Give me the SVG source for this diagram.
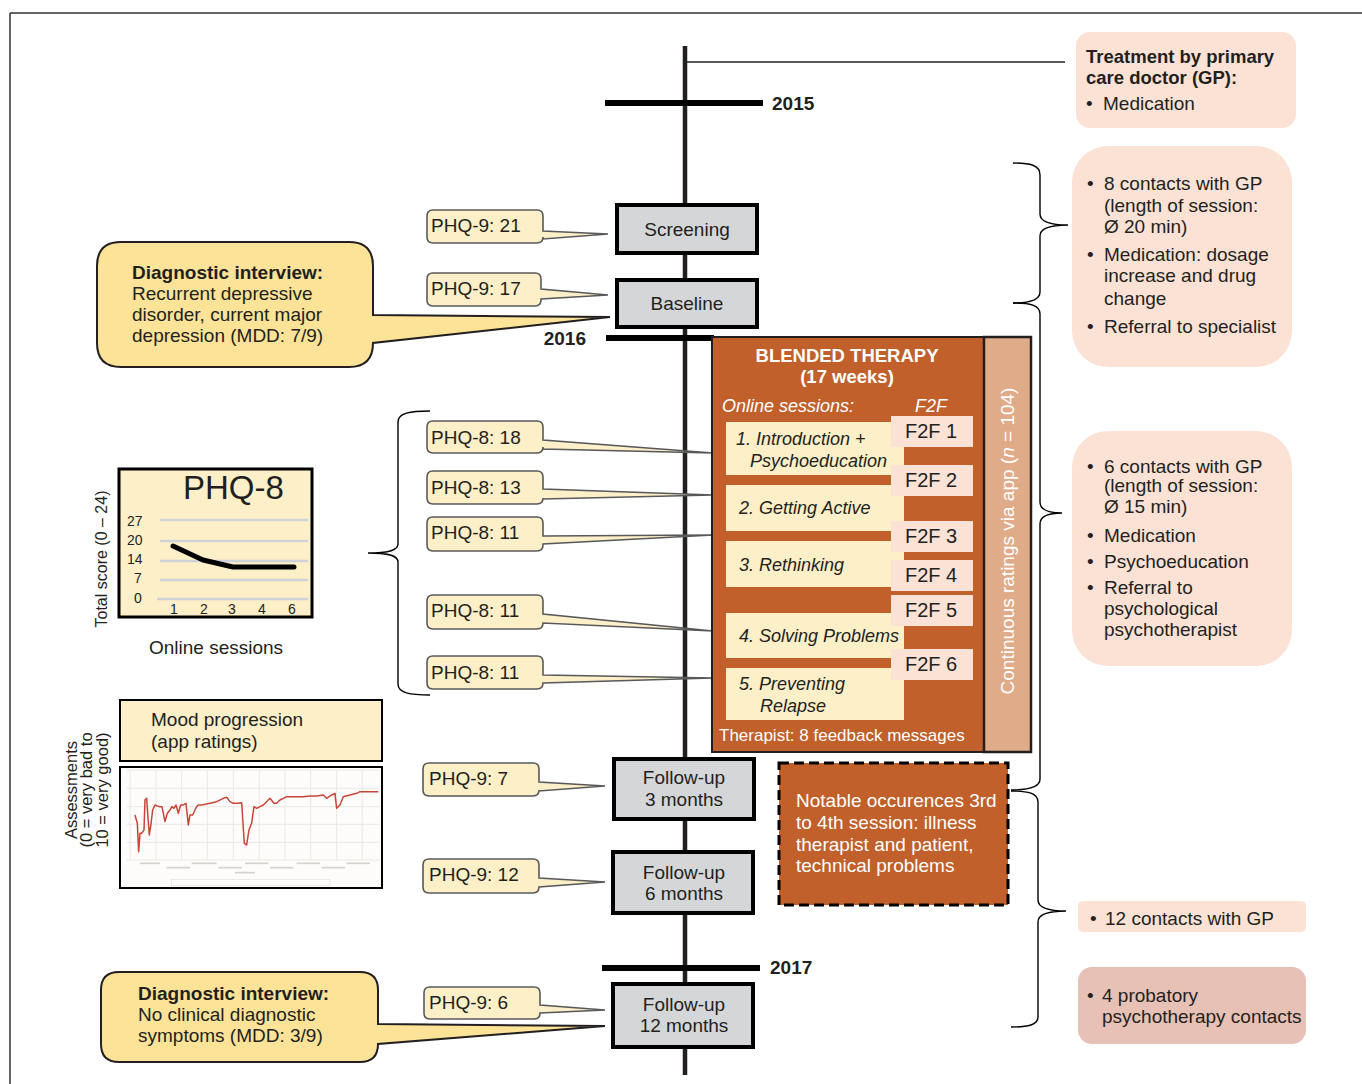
<svg xmlns="http://www.w3.org/2000/svg" width="1362" height="1084" viewBox="0 0 1362 1084">
<style>
text{font-family:"Liberation Sans",Arial,Helvetica,sans-serif;fill:#231f20;font-size:19px}
.b{font-weight:bold}
.w{fill:#ffffff}
.it{font-style:italic}
.c{text-anchor:middle}
.co{fill:#fdefc8;stroke:#58595b;stroke-width:1.6}
.dg{fill:#fde398;stroke:#231f20;stroke-width:2}
.gb{fill:#d5d6d8;stroke:#000;stroke-width:4}
.bar{fill:#000}
.brace{fill:none;stroke:#000;stroke-width:1.4}
.pe{fill:#fbe2d5}
.ses{fill:#fdefc8}
.f2f{fill:#fbe2d5}
.grid{stroke:#cfd3d8;stroke-width:2.5}
.tk{font-size:14px}
</style>

<g id="frame">
<line x1="10" y1="13" x2="1362" y2="13" stroke="#333" stroke-width="1.5"/>
<line x1="10" y1="13" x2="10" y2="1084" stroke="#333" stroke-width="1.5"/>
</g>

<g id="timeline">
<line x1="685" y1="46" x2="685" y2="1075" stroke="#231f20" stroke-width="4.5"/>
<rect class="bar" x="605" y="100" width="158" height="6"/>
<text class="b" x="772" y="110">2015</text>
<rect class="bar" x="606" y="335" width="108" height="6"/>
<text class="b" x="586" y="345" text-anchor="end">2016</text>
<rect class="bar" x="602" y="965" width="158" height="6"/>
<text class="b" x="770" y="974">2017</text>
</g>

<g id="connectors">
<line x1="685" y1="62" x2="1065" y2="62" stroke="#231f20" stroke-width="1.5"/>
<path class="brace" d="M430,411 C410,411 398,413 398,422 V544 C398,550 390,553 368,553 C390,553 398,556 398,562 V684 C398,693 410,695 430,695"/>
<path class="brace" d="M1013,163 C1030,163 1040,165 1040,175 V214 C1040,222 1050,225 1068,225 C1050,225 1040,228 1040,236 V292 C1040,300 1030,303 1013,303"/>
<path class="brace" d="M1013,303 C1030,303 1040,305 1040,314 V502 C1040,510 1048,513 1062,513 C1048,513 1040,516 1040,524 V779 C1040,787 1030,790 1011,790"/>
<path class="brace" d="M1011,791 C1028,791 1038,793 1038,802 V900 C1038,908 1048,911 1066,911 C1048,911 1038,914 1038,922 V1017 C1038,1025 1028,1027 1011,1027"/>
</g>

<g id="treatment-gp">
<rect class="pe" x="1076" y="32" width="220" height="96" rx="14"/>
<text class="b" x="1086" y="63" style="font-size:18.5px">Treatment by primary</text>
<text class="b" x="1086" y="84" style="font-size:18.5px">care doctor (GP):</text>
<text x="1086" y="110">•</text>
<text x="1103" y="110">Medication</text>
</g>

<g id="gp-phase1">
<rect class="pe" x="1072" y="146" width="220" height="221" rx="36"/>
<text x="1087" y="190">•</text><text x="1104" y="190">8 contacts with GP</text>
<text x="1104" y="212">(length of session:</text>
<text x="1104" y="233">Ø 20 min)</text>
<text x="1087" y="261">•</text><text x="1104" y="261">Medication: dosage</text>
<text x="1104" y="282">increase and drug</text>
<text x="1104" y="305">change</text>
<text x="1087" y="333">•</text><text x="1104" y="333">Referral to specialist</text>
</g>

<g id="gp-phase2">
<rect class="pe" x="1072" y="431" width="220" height="235" rx="36"/>
<text x="1087" y="473">•</text><text x="1104" y="473">6 contacts with GP</text>
<text x="1104" y="492">(length of session:</text>
<text x="1104" y="513">Ø 15 min)</text>
<text x="1087" y="542">•</text><text x="1104" y="542">Medication</text>
<text x="1087" y="568">•</text><text x="1104" y="568">Psychoeducation</text>
<text x="1087" y="594">•</text><text x="1104" y="594">Referral to</text>
<text x="1104" y="615">psychological</text>
<text x="1104" y="636">psychotherapist</text>
</g>

<g id="gp-phase3">
<rect class="pe" x="1078" y="901" width="228" height="31" rx="5"/>
<text x="1090" y="925">•</text><text x="1105" y="925">12 contacts with GP</text>
</g>

<g id="psychotherapy">
<rect x="1078" y="967" width="228" height="77" rx="14" fill="#e8c1b6"/>
<text x="1087" y="1002">•</text><text x="1102" y="1002">4 probatory</text>
<text x="1102" y="1023">psychotherapy contacts</text>
</g>

<g id="diag-interview-1">
<path class="dg" d="M121,242 H349 Q373,242 373,266 V315 L610,317 L373,343 Q373,367 349,367 H121 Q97,367 97,343 V266 Q97,242 121,242 Z"/>
<text class="b" x="132" y="279">Diagnostic interview:</text>
<text x="132" y="300">Recurrent depressive</text>
<text x="132" y="321">disorder, current major</text>
<text x="132" y="342">depression (MDD: 7/9)</text>
</g>

<g id="diag-interview-2">
<path class="dg" d="M119,972 H360 Q378,972 378,990 V1024 L605,1026 L378,1044 Q378,1062 360,1062 H119 Q101,1062 101,1044 V990 Q101,972 119,972 Z"/>
<text class="b" x="138" y="1000">Diagnostic interview:</text>
<text x="138" y="1021">No clinical diagnostic</text>
<text x="138" y="1042">symptoms (MDD: 3/9)</text>
</g>

<g id="phq9-21">
<path class="co" d="M433,210 H537 Q543,210 543,216 V231 L608,234 L543,239 V237 Q543,243 537,243 H433 Q427,243 427,237 V216 Q427,210 433,210 Z"/>
<text x="431" y="232">PHQ-9: 21</text>
</g>
<g id="phq9-17">
<path class="co" d="M433,273 H535 Q541,273 541,279 V289 L608,295 L541,299 V300 Q541,306 535,306 H433 Q427,306 427,300 V279 Q427,273 433,273 Z"/>
<text x="431" y="295">PHQ-9: 17</text>
</g>

<g id="phq8-1">
<path class="co" d="M433,421 H537 Q543,421 543,427 V440 L713,453 L543,449 V447 Q543,453 537,453 H433 Q427,453 427,447 V427 Q427,421 433,421 Z"/>
<text x="431" y="444">PHQ-8: 18</text>
</g>
<g id="phq8-2">
<path class="co" d="M433,471 H537 Q543,471 543,477 V489 L713,495 L543,499 V498 Q543,504 537,504 H433 Q427,504 427,498 V477 Q427,471 433,471 Z"/>
<text x="431" y="494">PHQ-8: 13</text>
</g>
<g id="phq8-3">
<path class="co" d="M433,517 H537 Q543,517 543,523 V536 L713,535 L543,544 V545 Q543,551 537,551 H433 Q427,551 427,545 V523 Q427,517 433,517 Z"/>
<text x="431" y="539">PHQ-8: 11</text>
</g>
<g id="phq8-4">
<path class="co" d="M433,595 H537 Q543,595 543,601 V614 L713,631 L543,623 V623 Q543,629 537,629 H433 Q427,629 427,623 V601 Q427,595 433,595 Z"/>
<text x="431" y="617">PHQ-8: 11</text>
</g>
<g id="phq8-5">
<path class="co" d="M433,656 H537 Q543,656 543,662 V675 L713,678 L543,683 V683 Q543,689 537,689 H433 Q427,689 427,683 V662 Q427,656 433,656 Z"/>
<text x="431" y="679">PHQ-8: 11</text>
</g>

<g id="phq9-7">
<path class="co" d="M429,763 H533 Q539,763 539,769 V782 L605,786 L539,791 V790 Q539,796 533,796 H429 Q423,796 423,790 V769 Q423,763 429,763 Z"/>
<text x="429" y="785">PHQ-9: 7</text>
</g>
<g id="phq9-12">
<path class="co" d="M429,859 H533 Q539,859 539,865 V878 L605,882 L539,887 V887 Q539,893 533,893 H429 Q423,893 423,887 V865 Q423,859 429,859 Z"/>
<text x="429" y="881">PHQ-9: 12</text>
</g>
<g id="phq9-6">
<path class="co" d="M430,987 H534 Q540,987 540,993 V1005 L605,1010 L540,1013 V1013 Q540,1019 534,1019 H430 Q424,1019 424,1013 V993 Q424,987 430,987 Z"/>
<text x="429" y="1009">PHQ-9: 6</text>
</g>

<g id="screening">
<rect class="gb" x="617" y="205" width="140" height="48"/>
<text class="c" x="687" y="236">Screening</text>
</g>
<g id="baseline">
<rect class="gb" x="617" y="280" width="140" height="47"/>
<text class="c" x="687" y="310">Baseline</text>
</g>
<g id="followup-3">
<rect class="gb" x="614" y="759" width="140" height="60"/>
<text class="c" x="684" y="784">Follow-up</text>
<text class="c" x="684" y="806">3 months</text>
</g>
<g id="followup-6">
<rect class="gb" x="613" y="852" width="140" height="61"/>
<text class="c" x="684" y="879">Follow-up</text>
<text class="c" x="684" y="900">6 months</text>
</g>
<g id="followup-12">
<rect class="gb" x="613" y="984" width="140" height="63"/>
<text class="c" x="684" y="1011">Follow-up</text>
<text class="c" x="684" y="1032">12 months</text>
</g>

<g id="blended-therapy">
<rect x="712" y="337" width="272" height="415" fill="#c1602b" stroke="#231f20" stroke-width="2"/>
<text class="b w c" x="847" y="362" style="font-size:18.5px">BLENDED THERAPY</text>
<text class="b w c" x="847" y="383" style="font-size:18.5px">(17 weeks)</text>
<text class="it w" x="722" y="412" style="font-size:18px">Online sessions:</text>
<text class="it w" x="915" y="412" style="font-size:18px">F2F</text>
<g id="session-1"><rect class="ses" x="726" y="422" width="178" height="53"/>
<text class="it" x="736" y="445" style="font-size:18px">1. Introduction +</text>
<text class="it" x="750" y="467" style="font-size:18px">Psychoeducation</text></g>
<g id="session-2"><rect class="ses" x="726" y="485" width="178" height="46"/>
<text class="it" x="739" y="514" style="font-size:18px">2. Getting Active</text></g>
<g id="session-3"><rect class="ses" x="726" y="541" width="178" height="46"/>
<text class="it" x="739" y="571" style="font-size:18px">3. Rethinking</text></g>
<g id="session-4"><rect class="ses" x="726" y="613" width="178" height="45"/>
<text class="it" x="739" y="642" style="font-size:18px">4. Solving Problems</text></g>
<g id="session-5"><rect class="ses" x="726" y="668" width="178" height="52"/>
<text class="it" x="739" y="690" style="font-size:18px">5. Preventing</text>
<text class="it" x="760" y="712" style="font-size:18px">Relapse</text></g>
<g id="f2f-1"><rect class="f2f" x="891" y="416" width="82" height="31"/><text x="905" y="438" style="font-size:20px">F2F 1</text></g>
<g id="f2f-2"><rect class="f2f" x="891" y="465" width="82" height="31"/><text x="905" y="487" style="font-size:20px">F2F 2</text></g>
<g id="f2f-3"><rect class="f2f" x="891" y="521" width="82" height="31"/><text x="905" y="543" style="font-size:20px">F2F 3</text></g>
<g id="f2f-4"><rect class="f2f" x="891" y="560" width="82" height="31"/><text x="905" y="582" style="font-size:20px">F2F 4</text></g>
<g id="f2f-5"><rect class="f2f" x="891" y="595" width="82" height="31"/><text x="905" y="617" style="font-size:20px">F2F 5</text></g>
<g id="f2f-6"><rect class="f2f" x="891" y="649" width="82" height="31"/><text x="905" y="671" style="font-size:20px">F2F 6</text></g>
<text class="w" x="719" y="741" style="font-size:17px">Therapist: 8 feedback messages</text>
</g>

<g id="continuous-ratings">
<rect x="984" y="337" width="47" height="415" fill="#dfab89" stroke="#231f20" stroke-width="2.5"/>
<text class="w c" transform="translate(1014,541) rotate(-90)">Continuous ratings via app (<tspan class="it">n</tspan> = 104)</text>
</g>

<g id="notable-occurrences">
<rect x="779" y="763" width="229" height="142" fill="#c1602b" stroke="#000" stroke-width="3" stroke-dasharray="10,5"/>
<text class="w" x="796" y="807">Notable occurences 3rd</text>
<text class="w" x="796" y="829">to 4th session: illness</text>
<text class="w" x="796" y="851">therapist and patient,</text>
<text class="w" x="796" y="872">technical problems</text>
</g>

<g id="phq8-chart">
<rect x="119" y="469" width="193" height="148" fill="#fdefc8" stroke="#000" stroke-width="3"/>
<text x="183" y="499" style="font-size:33px">PHQ-8</text>
<line class="grid" x1="160" y1="520" x2="308" y2="520"/>
<line class="grid" x1="160" y1="541" x2="308" y2="541"/>
<line class="grid" x1="160" y1="561" x2="308" y2="561"/>
<line class="grid" x1="160" y1="580" x2="308" y2="580"/>
<line class="grid" x1="157" y1="599" x2="308" y2="599"/>
<text class="tk" x="127" y="526">27</text>
<text class="tk" x="127" y="545">20</text>
<text class="tk" x="127" y="564">14</text>
<text class="tk" x="134" y="583">7</text>
<text class="tk" x="134" y="603">0</text>
<text class="tk c" x="174" y="614">1</text>
<text class="tk c" x="204" y="614">2</text>
<text class="tk c" x="232" y="614">3</text>
<text class="tk c" x="262" y="614">4</text>
<text class="tk c" x="292" y="614">6</text>
<polyline points="173,546 203,560 233,567 294,567" fill="none" stroke="#000" stroke-width="5" stroke-linecap="round" stroke-linejoin="round"/>
<text class="c" transform="translate(107,559) rotate(-90)" style="font-size:16px">Total score (0 – 24)</text>
<text class="c" x="216" y="654">Online sessions</text>
</g>

<g id="mood-progression">
<rect x="120" y="700" width="262" height="61" fill="#fdefc8" stroke="#000" stroke-width="2"/>
<text x="151" y="726">Mood progression</text>
<text x="151" y="748">(app ratings)</text>
<rect x="120" y="767" width="262" height="121" fill="#fdfcfa" stroke="#000" stroke-width="2"/>
<g transform="translate(50,690) scale(0.3333)" fill="none">
<g stroke="#ece8e4" stroke-width="3">
<line x1="230" y1="240" x2="990" y2="240"/><line x1="230" y1="295" x2="990" y2="295"/>
<line x1="230" y1="350" x2="990" y2="350"/><line x1="230" y1="403" x2="990" y2="403"/>
<line x1="230" y1="457" x2="990" y2="457"/><line x1="230" y1="510" x2="990" y2="510"/>
<line x1="240" y1="240" x2="240" y2="510"/><line x1="318" y1="240" x2="318" y2="510"/>
<line x1="395" y1="240" x2="395" y2="510"/><line x1="472" y1="240" x2="472" y2="510"/>
<line x1="550" y1="240" x2="550" y2="510"/><line x1="628" y1="240" x2="628" y2="510"/>
<line x1="705" y1="240" x2="705" y2="510"/><line x1="782" y1="240" x2="782" y2="510"/>
<line x1="860" y1="240" x2="860" y2="510"/><line x1="937" y1="240" x2="937" y2="510"/>
</g>
<g stroke="#d6d2ce" stroke-width="5">
<line x1="270" y1="520" x2="330" y2="520"/><line x1="425" y1="520" x2="500" y2="520"/>
<line x1="585" y1="520" x2="655" y2="520"/><line x1="740" y1="520" x2="810" y2="520"/>
<line x1="890" y1="520" x2="960" y2="520"/>
<line x1="350" y1="533" x2="420" y2="533"/><line x1="505" y1="533" x2="575" y2="533"/>
<line x1="660" y1="533" x2="730" y2="533"/><line x1="815" y1="533" x2="885" y2="533"/>
<line x1="555" y1="548" x2="615" y2="548"/>
</g>
<rect x="365" y="568" width="475" height="18" stroke="#e4e0dc" stroke-width="2"/>
<polyline stroke="#c8453a" stroke-width="4.5" stroke-linejoin="round" points="255,375 262,400 266,485 270,430 275,430 282,420 285,330 290,325 293,370 298,435 302,410 308,360 315,345 322,348 328,350 336,350 345,395 352,370 360,360 366,350 372,355 378,345 385,370 392,345 400,345 408,340 415,405 420,375 428,375 435,360 440,350 445,345 455,345 480,340 500,335 520,325 530,322 540,335 550,340 565,340 575,338 583,460 590,465 597,420 605,400 612,350 620,355 630,350 640,345 650,335 660,325 672,340 680,340 690,330 700,325 710,320 730,320 760,320 780,318 800,318 820,315 830,325 845,315 855,310 860,355 870,345 880,320 900,315 920,310 930,305 985,305"/>
</g>
<text class="c" transform="translate(77,790) rotate(-90)" style="font-size:16.5px">Assessments</text>
<text class="c" transform="translate(92,790) rotate(-90)" style="font-size:16.5px">(0 = very bad to</text>
<text class="c" transform="translate(108,790) rotate(-90)" style="font-size:16.5px">10 = very good)</text>
</g>
</svg>
